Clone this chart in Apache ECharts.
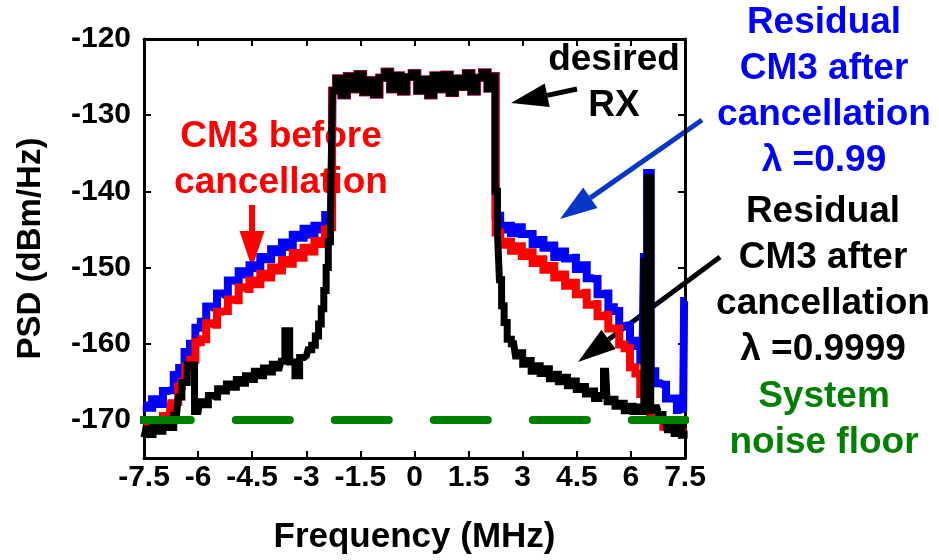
<!DOCTYPE html>
<html lang="en">
  <head>
    <meta charset="UTF-8" />
    <title>PSD before / after CM3 cancellation</title>
    <style>
      html,
      body {
        width: 100%;
        height: 100%;
        margin: 0;
        overflow: hidden;
        background: #fff;
      }
      #main {
        width: 939px;
        height: 560px;
      }
    </style>
  </head>
  <body>
    <div id="main"></div>
    <script src="https://cdn.jsdelivr.net/npm/echarts@6/dist/echarts.min.js"></script>
    <script>
      // x tick labels (MHz)
      const freqTicks = [-7.5, -6, -4.5, -3, -1.5, 0, 1.5, 3, 4.5, 6, 7.5];

      // desired RX band, shared by the three traces
      const rxBand = [
        [-2.25, -126.8], [-2.1, -125.2], [-1.95, -127.4], [-1.8, -124.9], [-1.65, -126.6],
        [-1.5, -124.6], [-1.35, -127.0], [-1.2, -125.4], [-1.05, -127.3], [-0.9, -125.1],
        [-0.75, -124.3], [-0.6, -126.6], [-0.45, -124.8], [-0.3, -126.9], [-0.15, -125.0],
        [0, -124.5], [0.15, -126.8], [0.3, -125.3], [0.45, -127.4], [0.6, -124.8],
        [0.75, -126.6], [0.9, -124.7], [1.05, -127.1], [1.2, -125.2], [1.35, -126.3],
        [1.5, -124.5], [1.65, -126.9], [1.8, -125.1], [1.95, -124.4], [2.1, -126.5],
        [2.2, -124.9]
      ];

      // residual CM3, lambda = 0.99 (blue)
      const res099Left = [
        [-7.5, -168.1], [-7.35, -168.4], [-7.2, -167.3], [-7.05, -167.9], [-6.9, -166.2],
        [-6.75, -166.1], [-6.6, -164.1], [-6.45, -163.2], [-6.3, -161.1], [-6.15, -160.0],
        [-6.0, -157.9], [-5.85, -157.1], [-5.7, -155.1], [-5.55, -155.3], [-5.4, -153.4],
        [-5.25, -153.6], [-5.1, -151.7], [-4.95, -151.8], [-4.8, -150.5], [-4.65, -150.9],
        [-4.5, -149.7], [-4.35, -150.1], [-4.2, -148.6], [-4.05, -148.9], [-3.9, -147.6],
        [-3.75, -148.0], [-3.6, -146.7], [-3.45, -147.3], [-3.3, -145.7], [-3.15, -146.1],
        [-3.0, -144.9], [-2.85, -145.7], [-2.7, -144.5], [-2.55, -145.0], [-2.4, -143.1],
        [-2.3, -143.2]
      ];
      const res099Right = [
        [2.3, -143.2], [2.45, -145.0], [2.6, -144.5], [2.75, -145.5], [2.9, -144.7],
        [3.05, -145.6], [3.2, -145.6], [3.35, -146.9], [3.5, -146.4], [3.65, -147.4],
        [3.8, -147.1], [3.95, -148.6], [4.1, -147.9], [4.25, -148.8], [4.4, -148.7],
        [4.55, -150.2], [4.7, -149.7], [4.85, -151.4], [5.0, -151.5], [5.15, -153.5],
        [5.3, -153.4], [5.45, -155.2], [5.6, -155.7], [5.75, -157.7], [5.9, -157.6],
        [6.05, -159.6], [6.2, -160.3], [6.32, -162.2], [6.4, -148.6], [6.5, -137.6],
        [6.6, -163.6], [6.75, -165.2], [6.9, -165.4], [7.05, -167.2], [7.2, -167.2],
        [7.35, -168.7], [7.45, -168.5], [7.5, -154.4]
      ];

      // CM3 before cancellation (red)
      const cm3Left = [
        [-7.5, -170.7], [-7.35, -171.2], [-7.2, -170.6], [-7.05, -170.8], [-6.9, -169.5],
        [-6.8, -169.5], [-6.7, -167.8], [-6.6, -167.7], [-6.5, -165.6], [-6.4, -165.0],
        [-6.3, -163.0], [-6.15, -162.1], [-6.0, -159.8], [-5.85, -159.4], [-5.7, -157.3],
        [-5.55, -157.5], [-5.4, -155.8], [-5.25, -155.7], [-5.1, -154.2], [-4.95, -154.3],
        [-4.8, -152.6], [-4.65, -152.8], [-4.5, -151.7], [-4.35, -152.2], [-4.2, -150.8],
        [-4.05, -151.3], [-3.9, -150.0], [-3.75, -150.4], [-3.6, -149.0], [-3.45, -149.5],
        [-3.3, -148.1], [-3.15, -148.7], [-3.0, -147.4], [-2.85, -147.9], [-2.7, -146.5],
        [-2.55, -146.9], [-2.42, -145.0], [-2.32, -144.7]
      ];
      const cm3Right = [
        [2.3, -145.4], [2.45, -147.0], [2.6, -146.6], [2.75, -147.8], [2.9, -147.2],
        [3.05, -148.5], [3.2, -148.0], [3.35, -149.4], [3.5, -148.9], [3.65, -150.3],
        [3.8, -149.8], [3.95, -151.3], [4.1, -150.9], [4.25, -152.4], [4.4, -152.0],
        [4.55, -153.5], [4.7, -153.3], [4.85, -154.9], [5.0, -154.8], [5.15, -156.4],
        [5.3, -156.2], [5.45, -158.0], [5.6, -158.0], [5.75, -160.1], [5.9, -160.6],
        [6.05, -163.1], [6.2, -163.9], [6.32, -166.6], [6.45, -167.6], [6.6, -169.8],
        [6.8, -170.0], [7.0, -170.9], [7.2, -170.7], [7.35, -171.5], [7.5, -171.0]
      ];

      // residual CM3, lambda = 0.9999 (black)
      const res9999Left = [
        [-7.5, -172.3], [-7.4, -171.2], [-7.3, -171.9], [-7.2, -170.8], [-7.05, -171.5],
        [-6.9, -170.5], [-6.75, -171.0], [-6.6, -169.4], [-6.5, -167.0], [-6.4, -165.1],
        [-6.2, -162.8], [-6.0, -168.9], [-5.9, -167.6], [-5.78, -168.0], [-5.65, -166.8],
        [-5.52, -167.0], [-5.4, -165.9], [-5.28, -166.2], [-5.15, -165.3], [-5.0, -165.7],
        [-4.88, -164.7], [-4.75, -165.2], [-4.62, -164.2], [-4.5, -164.7], [-4.38, -163.6],
        [-4.25, -164.2], [-4.12, -163.2], [-4.0, -163.7], [-3.88, -162.7], [-3.75, -163.2],
        [-3.65, -162.3], [-3.54, -158.3], [-3.38, -162.4], [-3.25, -164.2], [-3.12, -161.8],
        [-3.0, -161.6], [-2.9, -160.8], [-2.8, -160.2], [-2.7, -159.0], [-2.62, -157.4],
        [-2.55, -155.4], [-2.48, -153.0], [-2.42, -150.0], [-2.36, -146.6], [-2.3, -143.0]
      ];
      const res9999Right = [
        [2.27, -140.0], [2.33, -145.5], [2.38, -151.6], [2.45, -155.0], [2.52, -157.2],
        [2.62, -159.4], [2.75, -160.0], [2.85, -161.6], [2.95, -161.2], [3.05, -162.7],
        [3.17, -162.2], [3.3, -163.6], [3.42, -162.9], [3.55, -163.9], [3.68, -163.3],
        [3.8, -164.6], [3.93, -164.0], [4.05, -165.0], [4.18, -164.4], [4.3, -165.5],
        [4.42, -164.9], [4.55, -166.0], [4.68, -165.6], [4.8, -166.6], [4.93, -166.2],
        [5.05, -167.2], [5.18, -166.8], [5.3, -163.6], [5.38, -167.6], [5.5, -167.3],
        [5.62, -168.2], [5.75, -167.8], [5.88, -168.8], [6.0, -168.2], [6.12, -168.9],
        [6.22, -168.3], [6.32, -168.9], [6.4, -149.2], [6.5, -138.2], [6.6, -168.8],
        [6.72, -168.4], [6.83, -169.3], [6.95, -170.0], [7.05, -171.3], [7.15, -170.6],
        [7.25, -171.8], [7.35, -171.0], [7.45, -172.0], [7.5, -171.4]
      ];

      // system noise floor (green dashes, runs past the frame)
      const noiseFloor = [[-7.7, -170], [9.42, -170]];

      const FONT = "'Liberation Sans', Arial, sans-serif";

      function arrow(x1, y1, x2, y2, color, w, hl, hw) {
        const dx = x2 - x1, dy = y2 - y1;
        const len = Math.hypot(dx, dy);
        const ux = dx / len, uy = dy / len;
        const bx = x2 - ux * hl, by = y2 - uy * hl;
        return [
          { type: "line", shape: { x1: x1, y1: y1, x2: bx, y2: by }, style: { stroke: color, lineWidth: w } },
          {
            type: "polygon",
            shape: { points: [[x2, y2], [bx - uy * hw, by + ux * hw], [bx + uy * hw, by - ux * hw]] },
            style: { fill: color },
          },
        ];
      }

      function note(x, y, text, color) {
        return {
          type: "text",
          x: x,
          y: y,
          style: {
            text: text,
            fill: color,
            font: "bold 37px " + FONT,
            lineHeight: 46,
            align: "center",
            verticalAlign: "middle",
          },
        };
      }

      const tickLabel = { color: "#000", fontWeight: "bold", fontSize: 30, fontFamily: FONT };
      const frameLine = { lineStyle: { color: "#000", width: 3 }, onZero: false };
      const frameTick = { inside: true, length: 7, lineStyle: { color: "#000", width: 2 } };

      const traceSeries = (name, data, color, width) => ({
        name: name,
        type: "line",
        step: "middle",
        symbol: "none",
        data: data,
        lineStyle: { color: color, width: width, join: "miter" },
      });

      const option = {
        animation: false,
        backgroundColor: "#fff",
        grid: { left: 144, right: 254, top: 39, bottom: 96 },
        xAxis: [
          {
            type: "value",
            min: freqTicks[0],
            max: freqTicks[freqTicks.length - 1],
            interval: 1.5,
            position: "bottom",
            name: "Frequency (MHz)",
            nameLocation: "middle",
            nameGap: 62,
            nameTextStyle: { color: "#000", fontWeight: "bold", fontSize: 35, fontFamily: FONT },
            axisLine: frameLine,
            axisTick: frameTick,
            splitLine: { show: false },
            axisLabel: Object.assign({ margin: 5 }, tickLabel),
          },
          {
            type: "value",
            min: freqTicks[0],
            max: freqTicks[freqTicks.length - 1],
            interval: 1.5,
            position: "top",
            axisLine: frameLine,
            axisTick: frameTick,
            splitLine: { show: false },
            axisLabel: { show: false },
          },
        ],
        yAxis: [
          {
            type: "value",
            min: -175,
            max: -120,
            splitNumber: 5,
            position: "left",
            name: "PSD (dBm/Hz)",
            nameLocation: "middle",
            nameRotate: 90,
            nameGap: 97,
            nameTextStyle: { color: "#000", fontWeight: "bold", fontSize: 33, fontFamily: FONT },
            axisLine: frameLine,
            axisTick: frameTick,
            splitLine: { show: false },
            axisLabel: Object.assign(
              { margin: 13, formatter: (v) => (v % 10 === 0 ? String(v) : "") },
              tickLabel
            ),
          },
          {
            type: "value",
            min: -175,
            max: -120,
            splitNumber: 5,
            position: "right",
            axisLine: frameLine,
            axisTick: frameTick,
            splitLine: { show: false },
            axisLabel: { show: false },
          },
        ],
        series: [
          traceSeries("Residual CM3 λ=0.99", res099Left.concat(rxBand, res099Right), "#0000ff", 8),
          traceSeries("CM3 before cancellation", cm3Left.concat(rxBand, cm3Right), "#ff0000", 8),
          traceSeries("Residual CM3 λ=0.9999", res9999Left.concat(rxBand, res9999Right), "#000000", 7),
          {
            name: "System noise floor",
            type: "line",
            symbol: "none",
            clip: false,
            data: noiseFloor,
            lineStyle: { color: "#008000", width: 8, type: [54, 45], cap: "round" },
            z: 5,
          },
        ],
        graphic: [
          note(281, 160, "CM3 before\ncancellation", "#ff0000"),
          note(614, 83, "desired\nRX", "#000"),
          note(824, 92, "Residual\nCM3 after\ncancellation\nλ =0.99", "#0000ff"),
          note(823, 281, "Residual\nCM3 after\ncancellation\nλ =0.9999", "#000"),
          note(824, 420, "System\nnoise floor", "#008000"),
        ].concat(
          arrow(252, 205, 252, 268, "#ff0000", 6, 37, 12.5),
          arrow(577, 89, 511, 103, "#000", 5, 37, 12),
          arrow(702, 120, 560, 219, "#0837c8", 5, 37, 12.5),
          arrow(720, 257, 578, 362, "#000", 5, 38, 12)
        ),
      };

      const chart = echarts.init(document.getElementById("main"));
      chart.setOption(option);
    </script>
  </body>
</html>
